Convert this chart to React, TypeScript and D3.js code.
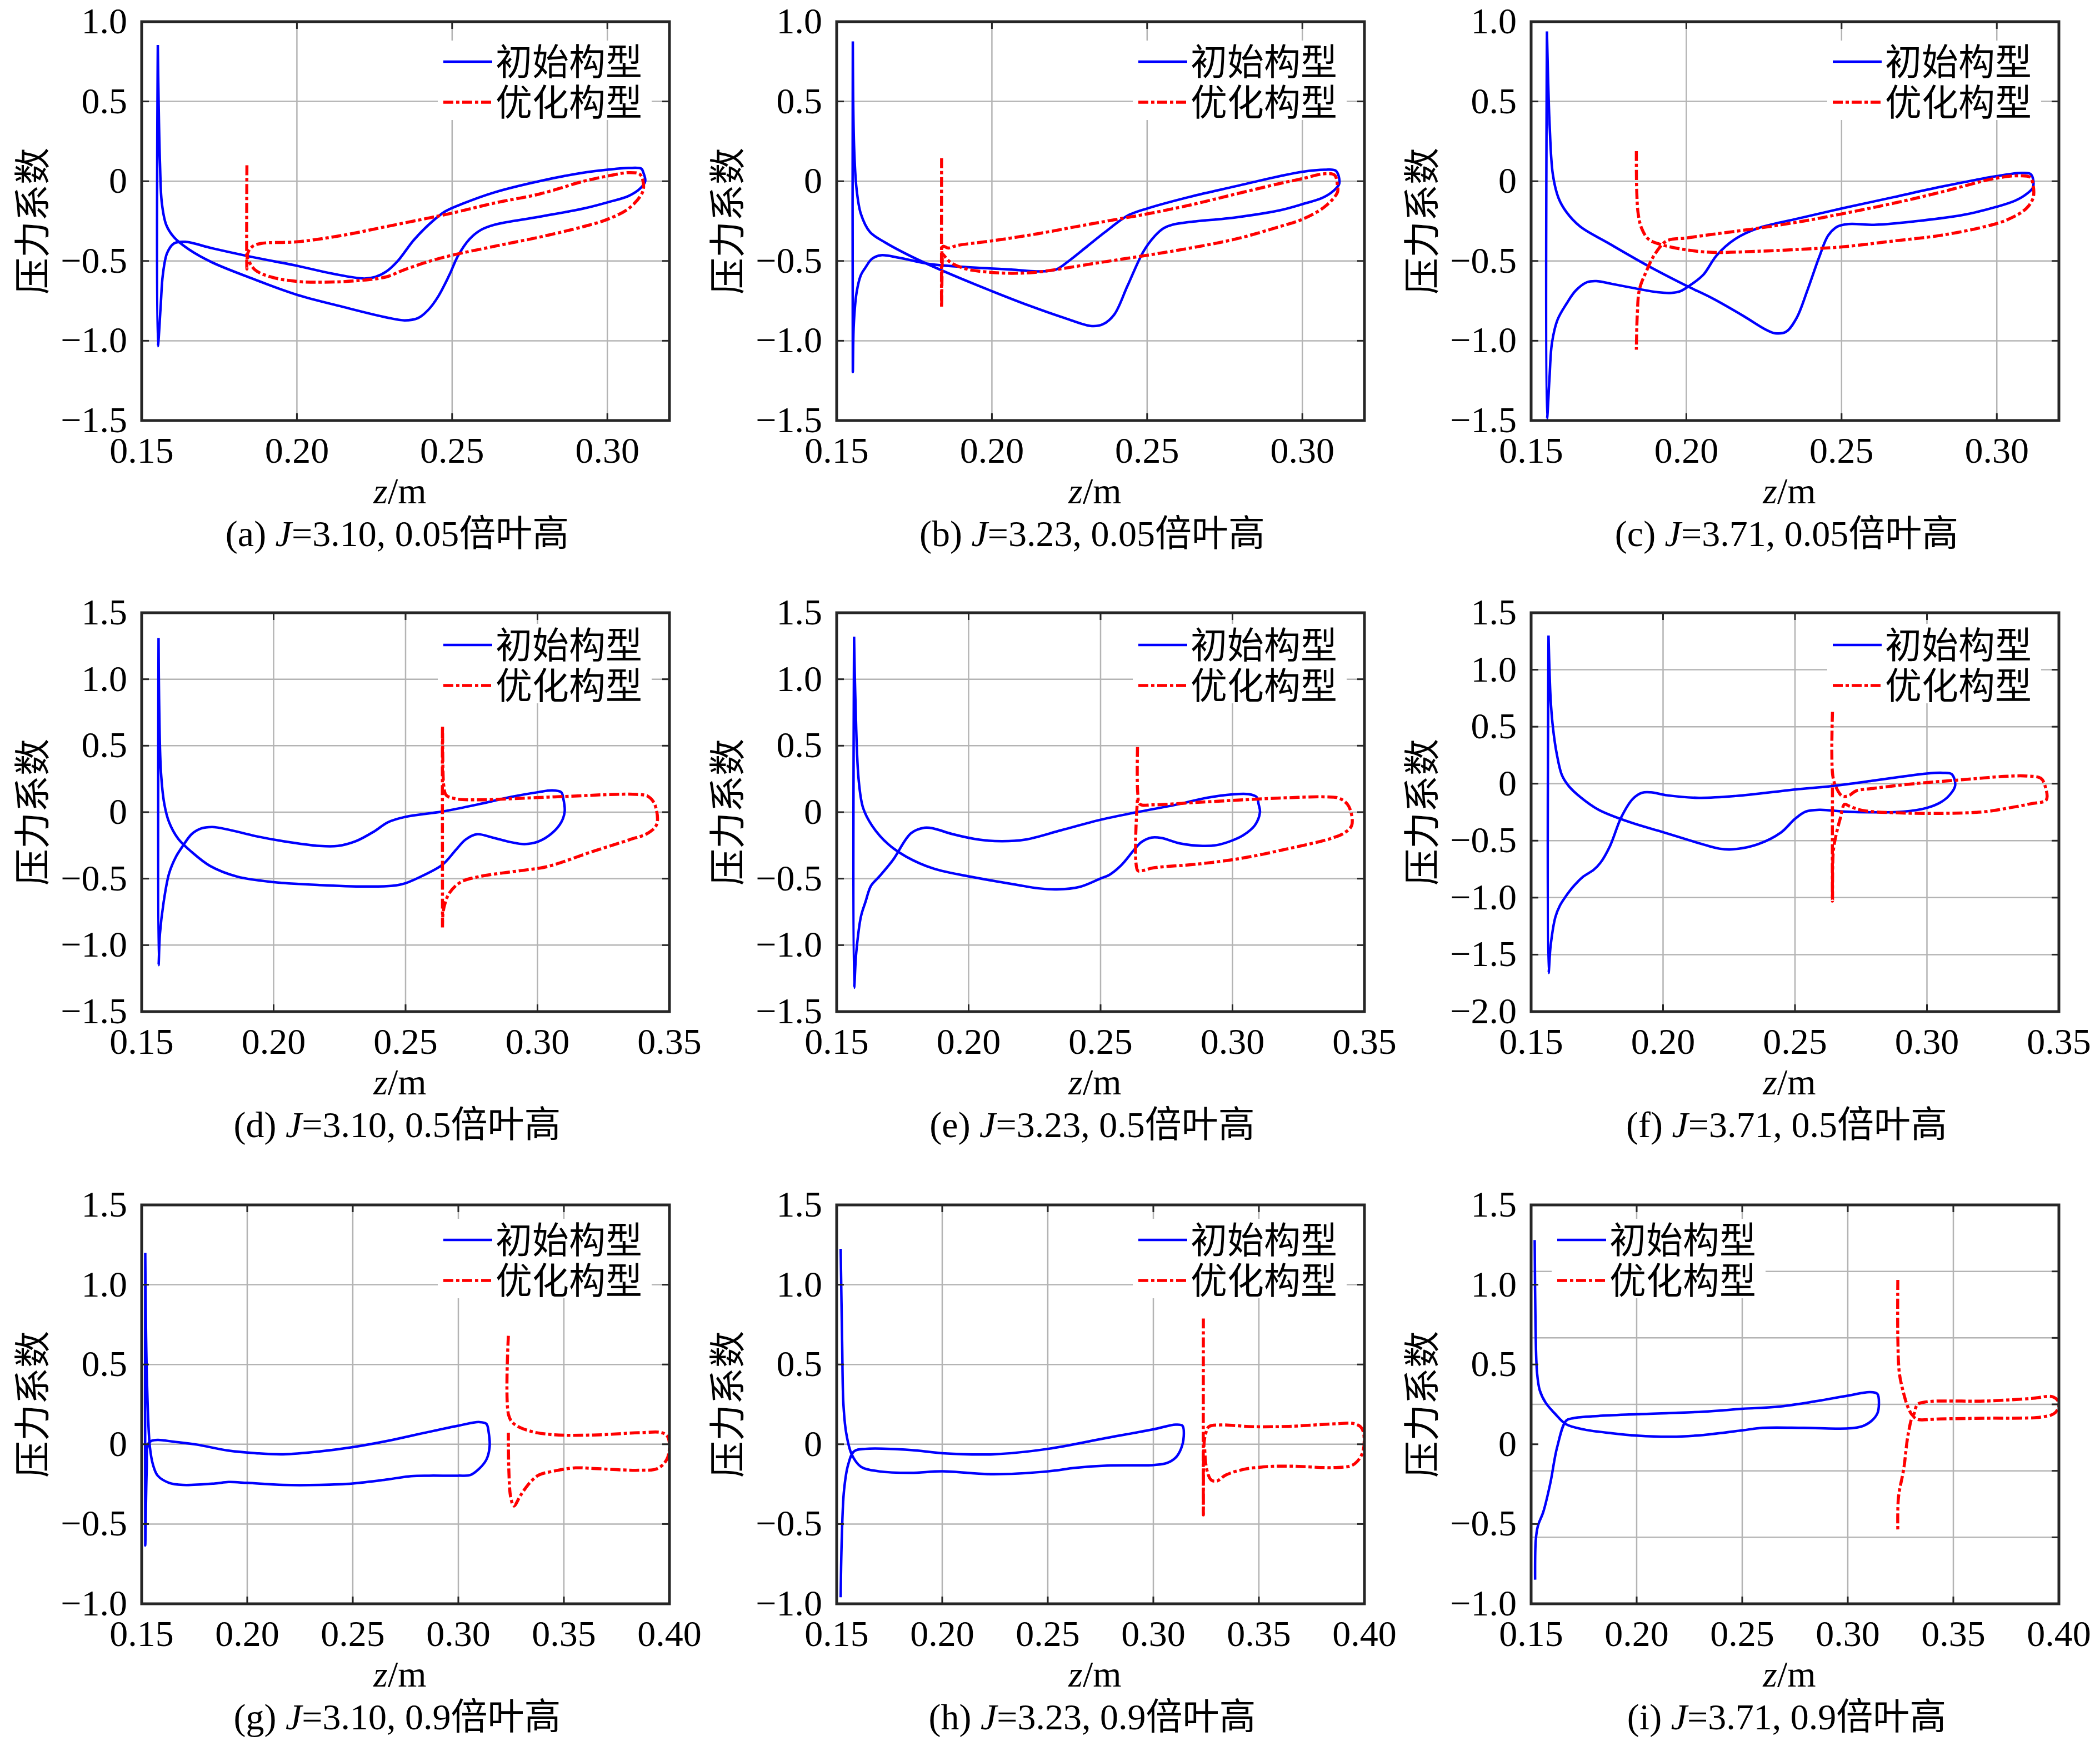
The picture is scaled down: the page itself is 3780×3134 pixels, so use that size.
import React from 'react';
import * as d3 from 'd3';

type Pt = [number, number];

// z (m), pressure coefficient, traced along each blade section
const initA: Pt[] = [[0.1552,0.854],[0.1552,-1.034],[0.1561,-0.79],[0.1568,-0.59],[0.1582,-0.45],[0.1604,-0.39],[0.164,-0.38],[0.1727,-0.42],[0.1856,-0.475],[0.20,-0.53],[0.2116,-0.58],[0.2217,-0.61],[0.2253,-0.60],[0.2289,-0.565],[0.2325,-0.50],[0.2376,-0.37],[0.2426,-0.27],[0.2477,-0.19],[0.2535,-0.14],[0.2636,-0.07],[0.278,0.0],[0.2924,0.054],[0.30,0.072],[0.3069,0.083],[0.3109,0.079],[0.3116,0.054],[0.3122,0.0],[0.3105,-0.047],[0.3069,-0.092],[0.30,-0.133],[0.2924,-0.171],[0.278,-0.223],[0.2636,-0.273],[0.2592,-0.306],[0.2556,-0.363],[0.252,-0.464],[0.2491,-0.588],[0.2455,-0.723],[0.2422,-0.809],[0.239,-0.858],[0.2347,-0.872],[0.2289,-0.854],[0.2145,-0.786],[0.20,-0.712],[0.1856,-0.61],[0.1727,-0.509],[0.1654,-0.43],[0.1604,-0.351],[0.1579,-0.273],[0.1565,-0.137],[0.1559,0.11],[0.1555,0.448],[0.1552,0.854]];
const optA: Pt[] = [[0.1839,0.10],[0.1839,-0.55],[0.1842,-0.45],[0.1856,-0.41],[0.1885,-0.39],[0.20,-0.38],[0.2145,-0.34],[0.2289,-0.284],[0.2434,-0.227],[0.25,-0.2],[0.2636,-0.137],[0.278,-0.081],[0.2924,0.0],[0.30,0.032],[0.3069,0.054],[0.3105,0.043],[0.3116,-0.014],[0.3113,-0.07],[0.3069,-0.171],[0.30,-0.239],[0.2924,-0.284],[0.278,-0.351],[0.2636,-0.408],[0.25,-0.464],[0.2434,-0.498],[0.2347,-0.554],[0.2289,-0.599],[0.2203,-0.622],[0.2087,-0.633],[0.20,-0.628],[0.1914,-0.599],[0.1864,-0.554],[0.1842,-0.486],[0.1839,-0.47]];

const initB: Pt[] = [[0.1552,0.876],[0.1552,-1.196],[0.1555,-0.903],[0.1564,-0.70],[0.1578,-0.588],[0.1592,-0.543],[0.1614,-0.486],[0.1643,-0.464],[0.1701,-0.48],[0.1802,-0.52],[0.1917,-0.538],[0.2062,-0.554],[0.2148,-0.565],[0.2206,-0.554],[0.2249,-0.498],[0.2307,-0.408],[0.2365,-0.318],[0.2437,-0.216],[0.25,-0.171],[0.2639,-0.097],[0.2784,-0.032],[0.2928,0.032],[0.30,0.059],[0.3072,0.072],[0.3108,0.065],[0.3119,-0.014],[0.3101,-0.059],[0.3065,-0.104],[0.30,-0.144],[0.2928,-0.182],[0.2784,-0.227],[0.2639,-0.255],[0.2581,-0.273],[0.2553,-0.295],[0.2524,-0.345],[0.2488,-0.441],[0.2437,-0.655],[0.2394,-0.836],[0.2358,-0.896],[0.2322,-0.908],[0.2235,-0.858],[0.2119,-0.779],[0.20,-0.689],[0.186,-0.577],[0.1744,-0.475],[0.1657,-0.385],[0.1607,-0.318],[0.1578,-0.205],[0.1564,-0.047],[0.1556,0.223],[0.1552,0.876]];
const optB: Pt[] = [[0.1838,0.144],[0.1838,-0.79],[0.184,-0.5],[0.1842,-0.408],[0.186,-0.419],[0.1888,-0.403],[0.20,-0.374],[0.2148,-0.329],[0.2293,-0.277],[0.2437,-0.227],[0.25,-0.205],[0.2639,-0.149],[0.2784,-0.081],[0.2928,-0.014],[0.30,0.016],[0.3072,0.047],[0.3104,0.038],[0.3113,-0.025],[0.3113,-0.07],[0.3072,-0.16],[0.30,-0.239],[0.2928,-0.284],[0.2784,-0.363],[0.2639,-0.419],[0.25,-0.464],[0.235,-0.509],[0.2206,-0.554],[0.2134,-0.572],[0.2062,-0.577],[0.1989,-0.57],[0.1917,-0.55],[0.1867,-0.509],[0.1845,-0.464],[0.1838,-0.45]];

const initC: Pt[] = [[0.1551,0.939],[0.1551,-1.489],[0.1559,-1.241],[0.1567,-1.016],[0.1585,-0.869],[0.1614,-0.768],[0.1644,-0.685],[0.168,-0.633],[0.171,-0.626],[0.1761,-0.644],[0.1834,-0.671],[0.1908,-0.696],[0.1952,-0.70],[0.1981,-0.689],[0.201,-0.655],[0.2054,-0.588],[0.2098,-0.464],[0.2157,-0.363],[0.223,-0.295],[0.2348,-0.239],[0.25,-0.171],[0.267,-0.099],[0.2817,-0.036],[0.30,0.032],[0.3081,0.052],[0.311,0.043],[0.3117,-0.036],[0.3095,-0.081],[0.3059,-0.122],[0.30,-0.16],[0.289,-0.212],[0.2743,-0.25],[0.2611,-0.273],[0.2523,-0.268],[0.2487,-0.284],[0.2457,-0.34],[0.2428,-0.475],[0.2391,-0.678],[0.2355,-0.858],[0.2321,-0.944],[0.2286,-0.953],[0.2252,-0.926],[0.2186,-0.847],[0.2084,-0.734],[0.20,-0.655],[0.1878,-0.532],[0.1746,-0.385],[0.1658,-0.284],[0.1614,-0.194],[0.1588,-0.104],[0.157,0.043],[0.156,0.336],[0.1551,0.939]];
const optC: Pt[] = [[0.1839,0.189],[0.184,-0.047],[0.1845,-0.205],[0.1856,-0.295],[0.1878,-0.363],[0.1922,-0.399],[0.20,-0.43],[0.2084,-0.446],[0.223,-0.439],[0.2377,-0.426],[0.25,-0.412],[0.267,-0.374],[0.2817,-0.34],[0.2963,-0.284],[0.3037,-0.239],[0.3095,-0.171],[0.3117,-0.104],[0.3117,-0.025],[0.3107,0.025],[0.3073,0.034],[0.30,0.02],[0.2817,-0.07],[0.267,-0.137],[0.25,-0.205],[0.2377,-0.25],[0.223,-0.295],[0.2084,-0.333],[0.20,-0.356],[0.1937,-0.374],[0.19,-0.453],[0.1871,-0.565],[0.1849,-0.678],[0.1842,-0.836],[0.1839,-1.056]];

const initD: Pt[] = [[0.1564,1.31],[0.1564,-1.15],[0.1569,-0.92],[0.1583,-0.68],[0.1604,-0.46],[0.163,-0.335],[0.1656,-0.254],[0.169,-0.164],[0.1725,-0.123],[0.1768,-0.112],[0.1828,-0.131],[0.1932,-0.18],[0.2036,-0.218],[0.2174,-0.254],[0.2243,-0.254],[0.2312,-0.218],[0.2381,-0.145],[0.2433,-0.076],[0.25,-0.035],[0.264,0.005],[0.2778,0.06],[0.29,0.115],[0.3001,0.15],[0.3055,0.164],[0.309,0.15],[0.3098,0.10],[0.3103,0.005],[0.309,-0.076],[0.3055,-0.158],[0.3003,-0.221],[0.2951,-0.24],[0.29,-0.226],[0.283,-0.191],[0.277,-0.166],[0.2727,-0.207],[0.2692,-0.281],[0.264,-0.395],[0.2571,-0.472],[0.25,-0.534],[0.245,-0.554],[0.2347,-0.559],[0.2174,-0.548],[0.2001,-0.526],[0.1863,-0.485],[0.1759,-0.404],[0.169,-0.30],[0.1638,-0.199],[0.1604,-0.076],[0.1586,0.06],[0.1573,0.305],[0.1566,0.85],[0.1564,1.31]];
const optD: Pt[] = [[0.264,-0.867],[0.264,0.646],[0.2642,0.30],[0.2645,0.196],[0.2654,0.128],[0.2692,0.10],[0.2778,0.093],[0.2951,0.106],[0.3124,0.12],[0.3297,0.134],[0.3375,0.134],[0.3418,0.12],[0.3444,0.06],[0.3452,-0.09],[0.3418,-0.158],[0.3349,-0.207],[0.321,-0.295],[0.3038,-0.409],[0.2951,-0.436],[0.2865,-0.458],[0.2778,-0.485],[0.2709,-0.526],[0.2666,-0.608],[0.2649,-0.69],[0.2642,-0.758],[0.264,-0.867]];

const initE: Pt[] = [[0.1566,1.32],[0.1566,-1.32],[0.1574,-1.06],[0.1592,-0.785],[0.1609,-0.676],[0.163,-0.554],[0.1661,-0.485],[0.1712,-0.363],[0.1782,-0.158],[0.1833,-0.117],[0.1868,-0.123],[0.1937,-0.164],[0.2041,-0.207],[0.2127,-0.218],[0.2213,-0.207],[0.2351,-0.136],[0.25,-0.057],[0.2638,0.0],[0.2783,0.055],[0.2904,0.109],[0.2999,0.134],[0.306,0.136],[0.3091,0.115],[0.3099,0.06],[0.3104,0.0],[0.3085,-0.098],[0.3042,-0.172],[0.2999,-0.213],[0.2939,-0.248],[0.2887,-0.254],[0.2801,-0.235],[0.2731,-0.194],[0.2693,-0.191],[0.2654,-0.226],[0.2628,-0.281],[0.2576,-0.404],[0.2533,-0.472],[0.25,-0.499],[0.2421,-0.562],[0.2334,-0.581],[0.2265,-0.573],[0.2179,-0.545],[0.2006,-0.485],[0.1868,-0.425],[0.1764,-0.335],[0.1695,-0.24],[0.1635,-0.104],[0.16,0.033],[0.1583,0.251],[0.1571,0.85],[0.1566,1.32]];
const optE: Pt[] = [[0.264,0.49],[0.2641,0.142],[0.2649,0.06],[0.2697,0.055],[0.287,0.074],[0.3042,0.093],[0.3215,0.109],[0.3353,0.115],[0.3405,0.104],[0.344,0.046],[0.3452,-0.098],[0.3422,-0.158],[0.3371,-0.199],[0.3215,-0.273],[0.3042,-0.344],[0.287,-0.39],[0.2697,-0.42],[0.2659,-0.439],[0.2641,-0.44],[0.264,0.10]];

const initF: Pt[] = [[0.1566,1.30],[0.1566,-1.66],[0.1574,-1.42],[0.1592,-1.17],[0.1609,-1.07],[0.1631,-0.99],[0.1661,-0.90],[0.1695,-0.82],[0.1738,-0.754],[0.1764,-0.69],[0.1799,-0.547],[0.1842,-0.293],[0.1885,-0.134],[0.192,-0.08],[0.1954,-0.076],[0.2015,-0.102],[0.2136,-0.124],[0.2274,-0.108],[0.25,-0.051],[0.2636,-0.022],[0.2792,0.025],[0.2913,0.064],[0.2999,0.089],[0.306,0.095],[0.3094,0.083],[0.3107,-0.016],[0.3085,-0.102],[0.3051,-0.165],[0.2999,-0.213],[0.2913,-0.245],[0.2792,-0.251],[0.2688,-0.245],[0.2593,-0.229],[0.2541,-0.245],[0.25,-0.309],[0.2446,-0.43],[0.236,-0.531],[0.2265,-0.576],[0.2213,-0.57],[0.2136,-0.522],[0.2001,-0.426],[0.1877,-0.34],[0.1756,-0.229],[0.1687,-0.118],[0.1643,-0.022],[0.1617,0.073],[0.1597,0.264],[0.1583,0.487],[0.1574,0.741],[0.1566,1.30]];
const optF: Pt[] = [[0.2642,0.63],[0.2643,0.073],[0.2657,-0.038],[0.268,-0.111],[0.2706,-0.102],[0.2731,-0.064],[0.2809,-0.038],[0.2965,0.003],[0.3137,0.035],[0.3293,0.064],[0.3379,0.067],[0.3431,0.048],[0.3448,-0.022],[0.3452,-0.143],[0.3396,-0.175],[0.331,-0.213],[0.3224,-0.245],[0.3051,-0.261],[0.2878,-0.255],[0.2757,-0.235],[0.2706,-0.197],[0.2688,-0.181],[0.2671,-0.309],[0.2654,-0.468],[0.2645,-0.595],[0.2642,-1.03],[0.2642,0.0]];

const initG: Pt[] = [[0.1517,1.20],[0.1517,-0.634],[0.152,-0.40],[0.1524,-0.15],[0.153,0.0],[0.1545,0.02],[0.1576,0.027],[0.1651,0.016],[0.176,-0.002],[0.1911,-0.04],[0.2041,-0.056],[0.217,-0.063],[0.2343,-0.045],[0.25,-0.018],[0.2668,0.022],[0.2841,0.072],[0.2999,0.116],[0.31,0.139],[0.3133,0.128],[0.3144,0.072],[0.3148,-0.018],[0.3133,-0.096],[0.31,-0.152],[0.3057,-0.193],[0.2999,-0.197],[0.2862,-0.197],[0.2776,-0.2],[0.2668,-0.22],[0.25,-0.246],[0.2343,-0.255],[0.217,-0.255],[0.20,-0.242],[0.1911,-0.237],[0.1846,-0.246],[0.1695,-0.255],[0.163,-0.242],[0.1576,-0.197],[0.1554,-0.13],[0.1539,-0.018],[0.1525,0.40],[0.1517,1.20]];
const optG: Pt[] = [[0.3237,0.68],[0.3238,0.184],[0.3263,0.128],[0.3338,0.083],[0.3446,0.06],[0.3641,0.058],[0.3857,0.072],[0.3965,0.072],[0.3991,0.049],[0.40,-0.018],[0.3987,-0.096],[0.3944,-0.152],[0.3857,-0.163],[0.3641,-0.152],[0.3555,-0.148],[0.3446,-0.17],[0.3381,-0.193],[0.3338,-0.242],[0.3295,-0.32],[0.3263,-0.387],[0.3248,-0.331],[0.3239,-0.152],[0.3237,0.072]];

const initH: Pt[] = [[0.1519,1.225],[0.1526,0.632],[0.1532,0.251],[0.1545,0.072],[0.1571,-0.063],[0.1615,-0.141],[0.1701,-0.17],[0.1852,-0.179],[0.2001,-0.17],[0.2241,-0.188],[0.25,-0.17],[0.263,-0.148],[0.2781,-0.134],[0.3002,-0.13],[0.3062,-0.119],[0.3105,-0.085],[0.3131,-0.029],[0.3144,0.049],[0.3138,0.116],[0.3105,0.123],[0.3002,0.094],[0.2781,0.04],[0.25,-0.029],[0.2241,-0.063],[0.2001,-0.056],[0.1852,-0.036],[0.1636,-0.029],[0.1582,-0.045],[0.1554,-0.13],[0.1535,-0.287],[0.1524,-0.6],[0.1519,-0.959]];
const optH: Pt[] = [[0.3237,0.788],[0.3237,-0.443],[0.324,0.0],[0.3245,0.049],[0.3263,0.11],[0.3317,0.121],[0.3469,0.11],[0.3642,0.112],[0.3858,0.128],[0.3955,0.128],[0.3988,0.099],[0.3999,0.027],[0.3988,-0.063],[0.3945,-0.13],[0.3858,-0.146],[0.3642,-0.137],[0.3534,-0.141],[0.343,-0.157],[0.3343,-0.193],[0.33,-0.231],[0.3274,-0.224],[0.3252,-0.152],[0.3243,-0.018]];

const initI: Pt[] = [[0.1517,1.28],[0.1521,0.741],[0.1528,0.45],[0.1541,0.338],[0.1569,0.26],[0.1612,0.193],[0.1666,0.125],[0.1753,0.092],[0.1882,0.069],[0.2001,0.054],[0.2163,0.047],[0.2315,0.058],[0.25,0.087],[0.2596,0.103],[0.279,0.103],[0.3002,0.099],[0.3071,0.114],[0.3114,0.148],[0.314,0.193],[0.3147,0.237],[0.314,0.316],[0.3103,0.327],[0.3002,0.305],[0.2855,0.271],[0.2682,0.237],[0.25,0.222],[0.2315,0.204],[0.2001,0.188],[0.1818,0.177],[0.1699,0.163],[0.1666,0.148],[0.1623,-0.02],[0.1591,-0.244],[0.1558,-0.423],[0.1532,-0.513],[0.1522,-0.602],[0.1519,-0.849]];
const optI: Pt[] = [[0.3237,1.03],[0.3237,0.674],[0.3244,0.45],[0.3261,0.338],[0.3287,0.226],[0.3309,0.181],[0.333,0.249],[0.3373,0.266],[0.3654,0.271],[0.387,0.287],[0.3968,0.298],[0.3996,0.271],[0.40,0.237],[0.3978,0.193],[0.3914,0.17],[0.3654,0.163],[0.3438,0.159],[0.333,0.155],[0.3309,0.17],[0.3287,0.069],[0.3265,-0.155],[0.324,-0.334],[0.3237,-0.535]];

const initialSeries = [initA, initB, initC, initD, initE, initF, initG, initH, initI];
const optimizedSeries = [optA, optB, optC, optD, optE, optF, optG, optH, optI];

const letters = ['a', 'b', 'c', 'd', 'e', 'f', 'g', 'h', 'i'];
const advanceJ = ['3.10', '3.23', '3.71', '3.10', '3.23', '3.71', '3.10', '3.23', '3.71'];
const spanPos = ['0.05', '0.05', '0.05', '0.5', '0.5', '0.5', '0.9', '0.9', '0.9'];
const legendLabels = ['初始构型', '优化构型'];

const xTicksRow1 = [0.15, 0.2, 0.25, 0.3];
const xTicksRow2 = [0.15, 0.2, 0.25, 0.3, 0.35];
const xTicksRow3 = [0.15, 0.2, 0.25, 0.3, 0.35, 0.4];
const xMaxRow = [0.32, 0.35, 0.4];
const yTicksTop = [-1.5, -1, -0.5, 0, 0.5, 1];
const yTicksMid = [-1.5, -1, -0.5, 0, 0.5, 1, 1.5];
const yTicksF = [-2, -1.5, -1, -0.5, 0, 0.5, 1, 1.5];
const yTicksBottom = [-1, -0.5, 0, 0.5, 1, 1.5];

const W = 3780;
const H = 3134;
const colX = [255, 1506, 2756];
const rowY = [39, 1103, 2169];
const legendRowOffset = [72, 58, 63];
const axW = 950;
const axH = 718;
const FONT = '"Liberation Serif", "Times New Roman", "Noto Sans CJK SC", serif';
const BLUE = '#0000ff';
const RED = '#ff0000';
const FRAME = '#262626';
const GRID = '#b4b4b4';
const DASH = '18 5 6 5';

const fmtY = (v: number) => (Math.abs(v) < 1e-9 ? '0' : (v < 0 ? '\u2212' : '') + Math.abs(v).toFixed(1));
const fmtX = (v: number) => v.toFixed(2);

const Panel = ({ idx }: { idx: number }) => {
  const col = idx % 3;
  const row = Math.floor(idx / 3);
  const left = colX[col];
  const top = rowY[row];
  const right = left + axW;
  const bottom = top + axH;

  const xTicks = [xTicksRow1, xTicksRow2, xTicksRow3][row];
  const yTicks = row === 0 ? yTicksTop : row === 1 ? (idx === 5 ? yTicksF : yTicksMid) : yTicksBottom;
  const yMin = yTicks[0];
  const yMax = yTicks[yTicks.length - 1];

  const x = d3.scaleLinear().domain([0.15, xMaxRow[row]]).range([left, right]);
  const y = d3.scaleLinear().domain([yMin, yMax]).range([bottom, top]);

  // panel (i) has its grid drawn on a different tick set than its labels
  const yGrid = idx === 8 ? d3.range(7).map(i => yMin + (i * (yMax - yMin)) / 6) : yTicks;

  const line = d3.line<Pt>().x(d => x(d[0])).y(d => y(d[1])).curve(d3.curveCatmullRom.alpha(0.5));

  const cx = (left + right) / 2;
  const legLeft = idx === 8 ? left + 37 : right - 417;
  const legRow = top + legendRowOffset[row];
  const clipId = `clip-${idx}`;
  const tick = 13;

  return (
    <g>
      <defs>
        <clipPath id={clipId}>
          <rect x={left} y={top} width={axW} height={axH} />
        </clipPath>
      </defs>
      {xTicks.slice(1).filter(t => x(t) < right - 2).map(t => (
        <line key={`gx${t}`} x1={x(t)} x2={x(t)} y1={top} y2={bottom} stroke={GRID} strokeWidth={2.5} />
      ))}
      {yGrid.slice(1, -1).map(t => (
        <line key={`gy${t}`} x1={left} x2={right} y1={y(t)} y2={y(t)} stroke={GRID} strokeWidth={2.5} />
      ))}
      <g clipPath={`url(#${clipId})`}>
        <path d={line(initialSeries[idx]) ?? ''} fill="none" stroke={BLUE} strokeWidth={4.5} strokeLinejoin="round" />
        <path d={line(optimizedSeries[idx]) ?? ''} fill="none" stroke={RED} strokeWidth={5.5} strokeDasharray={DASH} strokeLinejoin="round" />
      </g>
      <rect x={legLeft} y={legRow - 38} width={385} height={143} fill="#ffffff" />
      {legendLabels.map((lab, k) => {
        const ly = legRow + k * 73;
        return (
          <g key={lab}>
            <line x1={legLeft + 10} x2={legLeft + 98} y1={ly} y2={ly}
              stroke={k === 0 ? BLUE : RED} strokeWidth={k === 0 ? 4.5 : 5.5}
              strokeDasharray={k === 0 ? undefined : DASH} />
            <text x={legLeft + 104} y={ly + 24} fontFamily={FONT} fontSize={66} fill="#000">{lab}</text>
          </g>
        );
      })}
      {xTicks.map(t => (
        <g key={`tx${t}`}>
          <line x1={x(t)} x2={x(t)} y1={bottom} y2={bottom - tick} stroke={FRAME} strokeWidth={3} />
          <line x1={x(t)} x2={x(t)} y1={top} y2={top + tick} stroke={FRAME} strokeWidth={3} />
          <text x={x(t)} y={bottom + 76} textAnchor="middle" fontFamily={FONT} fontSize={66} fill="#000">{fmtX(t)}</text>
        </g>
      ))}
      {yTicks.map(t => (
        <g key={`ty${t}`}>
          <line x1={left} x2={left + tick} y1={y(t)} y2={y(t)} stroke={FRAME} strokeWidth={3} />
          <text x={left - 26} y={y(t) + 21} textAnchor="end" fontFamily={FONT} fontSize={66} fill="#000">{fmtY(t)}</text>
        </g>
      ))}
      {yGrid.map(t => (
        <line key={`tr${t}`} x1={right} x2={right - tick} y1={y(t)} y2={y(t)} stroke={FRAME} strokeWidth={3} />
      ))}
      <rect x={left} y={top} width={axW} height={axH} fill="none" stroke={FRAME} strokeWidth={5} />
      <text x={left - 196} y={(top + bottom) / 2} transform={`rotate(-90 ${left - 196} ${(top + bottom) / 2})`}
        textAnchor="middle" dominantBaseline="central" fontFamily={FONT} fontSize={66} fill="#000">压力系数</text>
      <text x={cx - 10} y={bottom + 149} textAnchor="middle" fontFamily={FONT} fontSize={66} fill="#000">
        <tspan fontStyle="italic">z</tspan>/m
      </text>
      <text x={cx - 15} y={bottom + 226} textAnchor="middle" fontFamily={FONT} fontSize={66} fill="#000">
        ({letters[idx]}) <tspan fontStyle="italic">J</tspan>={advanceJ[idx]}, {spanPos[idx]}倍叶高
      </text>
    </g>
  );
};

export default function App() {
  return (
    <svg width={W} height={H} viewBox={`0 0 ${W} ${H}`}
      style={{ position: 'absolute', left: 0, top: 0, background: '#ffffff' }}>
      <rect x={0} y={0} width={W} height={H} fill="#ffffff" />
      {letters.map((_, i) => <Panel key={i} idx={i} />)}
    </svg>
  );
}
